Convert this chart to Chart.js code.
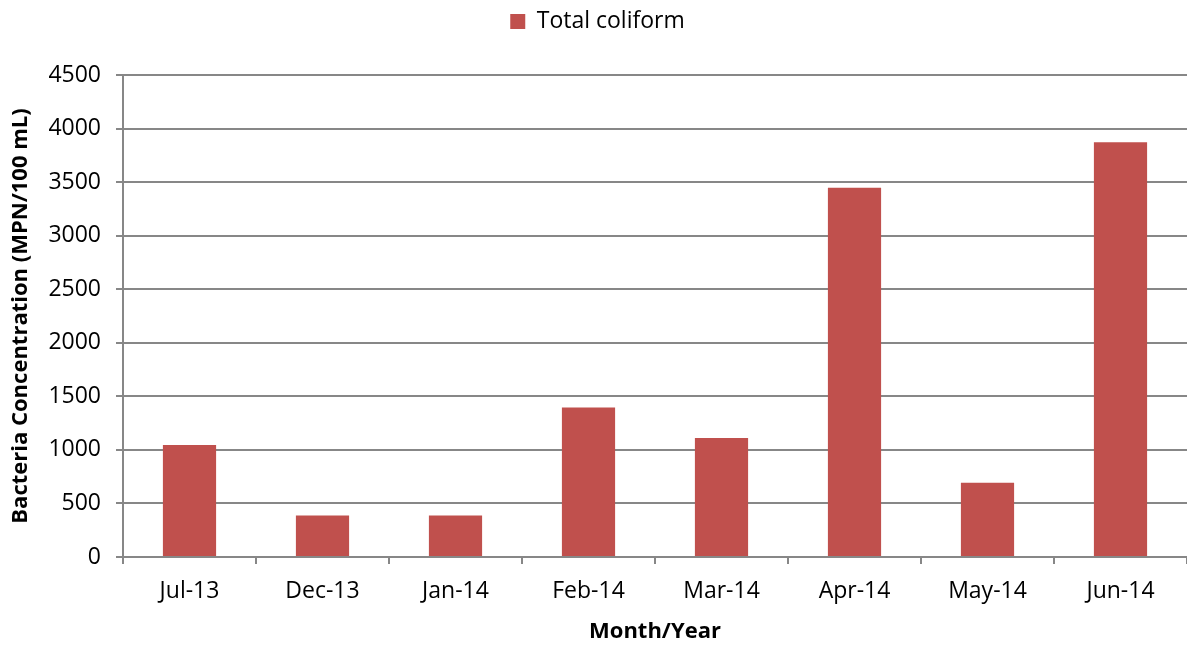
<!DOCTYPE html>
<html>
<head>
<meta charset="utf-8">
<script src="https://cdn.jsdelivr.net/npm/chart.js@4"></script>
<style>
  html, body { margin: 0; padding: 0; background: #fff; }
</style>
</head>
<body>
<canvas id="chart" width="1187" height="645"></canvas>
<script>
// Data
const months = ['Jul-13', 'Dec-13', 'Jan-14', 'Feb-14', 'Mar-14', 'Apr-14', 'May-14', 'Jun-14'];
const totalColiform = [1046, 387, 387, 1396, 1110, 3448, 694, 3872];
const yTicks = [0, 500, 1000, 1500, 2000, 2500, 3000, 3500, 4000, 4500];

Chart.defaults.font.family = "'Open Sans', sans-serif";
Chart.defaults.color = '#000';

const gridGray = '#878787';

ctx = document.getElementById('chart').getContext('2d');

chart = new Chart(ctx, {
  type: 'bar',
  data: {
    labels: months,
    datasets: [{
      label: 'Total coliform',
      data: totalColiform,
      xAxisID: 'x',
      yAxisID: 'y',
      backgroundColor: '#C0504D',
      barPercentage: 0.4,
      categoryPercentage: 1.0
    }]
  },
  options: {
    responsive: false,
    animation: false,
    layout: { padding: { left: 8, right: 0, top: 0, bottom: 0 } },
    plugins: {
      legend: {
        position: 'top',
        labels: {
          boxWidth: 15,
          boxHeight: 15,
          padding: 10,
          font: { size: 23 }
        }
      },
      tooltip: { enabled: false }
    },
    scales: {
      x: {
        grid: {
          drawOnChartArea: false,
          drawTicks: true,
          tickLength: 7,
          color: gridGray,
          lineWidth: 2
        },
        border: { color: gridGray, width: 2 },
        ticks: { padding: 14, font: { size: 23 } },
        title: {
          display: true,
          text: 'Month/Year',
          font: { size: 22, weight: 'bold' },
          padding: { top: 4, bottom: 0 }
        },
        afterFit(scale) { scale.height = 88; }
      },
      // empty spacer between the legend and the plot
      spacer: {
        axis: 'x',
        type: 'category',
        position: 'top',
        grid: { display: false },
        border: { display: false },
        ticks: { display: false },
        afterFit(scale) { scale.height = 32; }
      },
      y: {
        min: 0,
        max: 4500,
        afterBuildTicks(scale) { scale.ticks = yTicks.map(v => ({ value: v })); },
        grid: {
          drawTicks: true,
          tickLength: 7,
          color: gridGray,
          lineWidth: 2
        },
        border: { color: gridGray, width: 2 },
        ticks: {
          padding: 15,
          font: { size: 23 },
          callback: v => String(v)
        },
        title: {
          display: true,
          text: 'Bacteria Concentration (MPN/100 mL)',
          font: { size: 22, weight: 'bold' },
          padding: { top: 0, bottom: 2 }
        },
        afterFit(scale) { scale.width = 115; }
      }
    }
  }
});
</script>
</body>
</html>
